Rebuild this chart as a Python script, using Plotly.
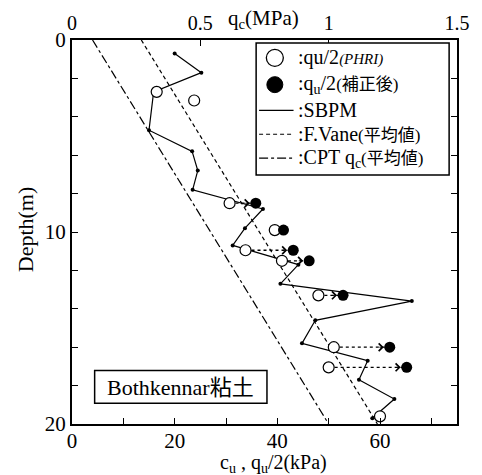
import plotly.graph_objects as go

# SBPM undrained strength profile (depth m, cu kPa)
sbpm_depth = [0.7, 1.7, 2.7, 4.7, 5.8, 6.8, 7.8, 8.8, 9.8, 10.7, 11.7, 12.7,
              13.6, 14.6, 15.8, 16.7, 17.7, 18.7, 19.7]
sbpm_cu = [20.0, 25.2, 15.9, 15.0, 23.4, 24.5, 23.5, 37.2, 33.7, 31.3, 44.1, 40.6,
           66.2, 47.4, 44.8, 57.6, 55.9, 62.8, 58.5]

# unconfined compression qu/2 (PHRI)
phri_depth = [2.7, 3.15, 8.5, 9.9, 10.95, 11.5, 13.3, 16.0, 17.05, 19.6]
phri_cu = [16.5, 23.8, 30.7, 39.5, 33.8, 40.9, 48.0, 51.0, 50.0, 60.0]

# corrected qu/2
corr_depth = [8.5, 9.9, 10.95, 11.5, 13.3, 16.0, 17.05]
corr_cu = [35.8, 41.2, 43.1, 46.2, 52.8, 61.9, 65.2]

# correction arrows: PHRI value -> corrected value
arrow_depth = [8.5, 10.95, 11.5, 13.3, 16.0, 17.05]
arrow_from = [30.7, 33.8, 40.9, 48.0, 51.0, 50.0]
arrow_to = [35.8, 43.1, 46.2, 52.8, 61.9, 65.2]

# field vane mean line (kPa) and CPT qc mean line (MPa)
vane_depth = [0, 20]
vane_cu = [13.5, 59.5]
cpt_depth = [0, 20]
cpt_qc = [0.08, 1.0]

# axis ticks
x_ticks = [0, 10, 20, 30, 40, 50, 60, 70]
x_labels = ["0", "", "20", "", "40", "", "60", ""]
qc_ticks = [0, 0.5, 1, 1.5]
qc_labels = ["0", "0.5", "1", "1.5"]
y_ticks = [0, 2, 4, 6, 8, 10, 12, 14, 16, 18, 20]
y_labels = ["0", "", "", "", "", "10", "", "", "", "", "20"]

FONT = "Times New Roman, Liberation Serif, Noto Sans CJK JP, serif"
W, H = 482, 475
ML, MR, MT, MB = 72, 19, 37, 51
PW, PH = W - ML - MR, H - MT - MB


def fx(px):
    return (px - ML) / PW


def fy(py):
    return (H - MB - py) / PH


fig = go.Figure()

# dotted correction lines
dx, dy = [], []
for d, a, b in zip(arrow_depth, arrow_from, arrow_to):
    dx += [a, b, None]
    dy += [d, d, None]
fig.add_trace(go.Scatter(x=dx, y=dy, mode="lines",
                         line=dict(color="black", width=1.3, dash="dot"),
                         hoverinfo="skip"))

fig.add_trace(go.Scatter(x=vane_cu, y=vane_depth, mode="lines",
                         line=dict(color="black", width=1.2, dash="4px,3px")))
fig.add_trace(go.Scatter(x=cpt_qc, y=cpt_depth, mode="lines", xaxis="x2",
                         line=dict(color="black", width=1.2, dash="9px,3px,3px,3px")))
fig.add_trace(go.Scatter(x=sbpm_cu, y=sbpm_depth, mode="lines+markers",
                         line=dict(color="black", width=1.2),
                         marker=dict(size=4, color="black")))
fig.add_trace(go.Scatter(x=phri_cu, y=phri_depth, mode="markers",
                         marker=dict(size=11, color="white",
                                     line=dict(color="black", width=1.2))))
fig.add_trace(go.Scatter(x=corr_cu, y=corr_depth, mode="markers",
                         marker=dict(size=11, color="black")))

# open arrowheads just before the corrected values
for d, b in zip(arrow_depth, arrow_to):
    fig.add_annotation(x=b, y=d, ax=b - 2.3, ay=d, xref="x", yref="y",
                       axref="x", ayref="y", text="", showarrow=True,
                       arrowhead=4, arrowsize=1.5, arrowwidth=1,
                       arrowcolor="black", standoff=6)

axis_common = dict(showline=True, linewidth=2, linecolor="black", showgrid=False,
                   zeroline=False, ticks="inside", ticklen=6, tickwidth=1.3,
                   tickcolor="black")

fig.update_layout(
    width=W, height=H,
    margin=dict(l=ML, r=MR, t=MT, b=MB),
    paper_bgcolor="white", plot_bgcolor="white",
    showlegend=False,
    font=dict(family=FONT, color="black"),
    xaxis=dict(range=[0, 75], tickvals=x_ticks, ticktext=x_labels,
               ticklabelstandoff=-3,
               tickfont=dict(size=21, family=FONT), **axis_common),
    xaxis2=dict(range=[0, 1.5], overlaying="x", side="top", anchor="y",
                tickvals=qc_ticks, ticktext=qc_labels,
                tickfont=dict(size=20, family=FONT), **axis_common),
    yaxis=dict(range=[20, 0], tickvals=y_ticks, ticktext=y_labels,
               mirror="ticks", tickfont=dict(size=21, family=FONT), **axis_common),
)

# axis titles
fig.add_annotation(x=fx(266), y=fy(16), xref="paper", yref="paper",
                   text="q<sub>c</sub>(MPa)", showarrow=False,
                   font=dict(size=21, family=FONT), xanchor="center", yanchor="middle")
fig.add_annotation(x=fx(277), y=fy(464), xref="paper", yref="paper",
                   text="c<sub>u</sub> , q<sub>u</sub>/2(kPa)", showarrow=False,
                   font=dict(size=20, family=FONT), xanchor="center", yanchor="middle")
fig.add_annotation(x=fx(25), y=fy(228), xref="paper", yref="paper",
                   text="Depth(m)", showarrow=False, textangle=-90,
                   font=dict(size=22, family=FONT), xanchor="center", yanchor="middle")

# legend box
shapes = []
shapes.append(dict(type="rect", xref="paper", yref="paper",
                   x0=fx(259), x1=fx(455), y0=fy(173), y1=fy(40),
                   line=dict(color="black", width=1.5), fillcolor="white"))
rows = [55, 82, 108, 132, 156]
sym_x = 278
shapes.append(dict(type="circle", xref="paper", yref="paper",
                   xsizemode="pixel", ysizemode="pixel",
                   xanchor=fx(sym_x), yanchor=fy(rows[0]),
                   x0=-8.5, x1=8.5, y0=-8.5, y1=8.5,
                   line=dict(color="black", width=1.3), fillcolor="white"))
shapes.append(dict(type="circle", xref="paper", yref="paper",
                   xsizemode="pixel", ysizemode="pixel",
                   xanchor=fx(sym_x), yanchor=fy(rows[1]),
                   x0=-8, x1=8, y0=-8, y1=8,
                   line=dict(color="black", width=1), fillcolor="black"))
for r, dash in zip(rows[2:], ["solid", "4px,3px", "9px,3px,3px,3px"]):
    shapes.append(dict(type="line", xref="paper", yref="paper",
                       x0=fx(262), x1=fx(297), y0=fy(r), y1=fy(r),
                       line=dict(color="black", width=1.2, dash=dash)))

# site label box
shapes.append(dict(type="rect", xref="paper", yref="paper",
                   x0=fx(95), x1=fx(270), y0=fy(403), y1=fy(370),
                   line=dict(color="black", width=1.5), fillcolor="white"))
fig.update_layout(shapes=shapes)

legend_texts = [
    ":qu/2<span style='font-size:15px'><i>(PHRI)</i></span>",
    ":q<sub>u</sub>/2<span style='font-size:17px'>(補正後)</span>",
    ":SBPM",
    ":F.Vane<span style='font-size:17px'>(平均値)</span>",
    ":CPT q<sub>c</sub><span style='font-size:17px'>(平均値)</span>",
]
for r, t in zip(rows, legend_texts):
    fig.add_annotation(x=fx(299), y=fy(r), xref="paper", yref="paper",
                       text=t, showarrow=False, font=dict(size=20, family=FONT),
                       xanchor="left", yanchor="middle")

fig.add_annotation(x=fx(182.5), y=fy(387), xref="paper", yref="paper",
                   text="Bothkennar粘土", showarrow=False,
                   font=dict(size=22, family=FONT),
                   xanchor="center", yanchor="middle")

fig.write_html("out.html")
